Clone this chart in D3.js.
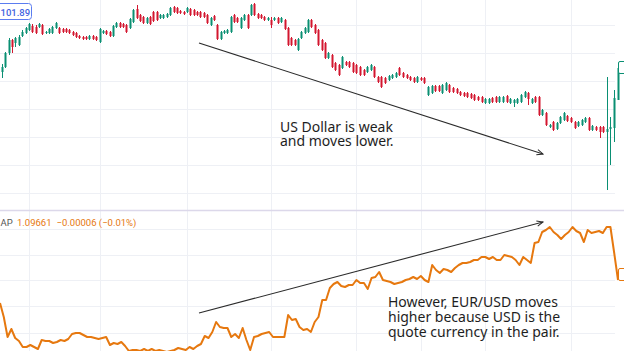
<!DOCTYPE html>
<html>
<head>
<meta charset="utf-8">
<script src="https://cdn.jsdelivr.net/npm/d3@7"></script>
<style>
body { margin: 0; background: #fff; }
svg { display: block; }
</style>
</head>
<body>
<svg width="624" height="351"></svg>
<script>
// DXY hourly candles (top pane)
var opens = [101.85,101.90,102.04,102.17,102.14,102.12,102.21,102.24,102.27,102.31,102.30,102.30,102.32,102.24,102.24,102.24,102.29,102.29,102.28,102.28,
  102.27,102.25,102.24,102.21,102.20,102.20,102.18,102.21,102.20,102.15,102.24,102.26,102.25,102.21,102.30,102.34,102.33,102.32,102.29,102.35,
  102.48,102.42,102.40,102.34,102.40,102.45,102.45,102.39,102.39,102.40,102.42,102.50,102.49,102.46,102.45,102.45,102.48,102.47,102.45,102.45,
  102.44,102.42,102.32,102.41,102.32,102.18,102.24,102.24,102.25,102.42,102.39,102.29,102.37,102.42,102.42,102.53,102.43,102.42,102.40,102.37,
  102.37,102.37,102.39,102.35,102.37,102.29,102.19,102.17,102.07,102.19,102.24,102.25,102.37,102.32,102.27,102.17,102.14,101.99,102.02,101.94,
  101.92,101.89,101.95,101.95,101.94,101.92,101.90,101.87,101.85,101.87,101.90,101.80,101.80,101.79,101.77,101.79,101.80,101.89,101.84,101.82,
  101.80,101.79,101.75,101.79,101.79,101.62,101.64,101.71,101.71,101.64,101.67,101.72,101.69,101.68,101.65,101.64,101.64,101.63,101.62,101.60,
  101.60,101.54,101.54,101.59,101.60,101.55,101.55,101.61,101.54,101.54,101.54,101.55,101.60,101.64,101.54,101.60,101.60,101.42,101.44,101.30,
  101.35,101.28,101.34,101.37,101.41,101.39,101.35,101.31,101.32,101.35,101.39,101.27,101.30,101.30,101.30,101.25,101.28,101.29,101.57];
var highs = [101.93,102.05,102.19,102.18,102.20,102.22,102.27,102.30,102.34,102.33,102.32,102.34,102.33,102.26,102.29,102.31,102.35,102.30,102.29,102.29,
  102.28,102.26,102.25,102.22,102.21,102.21,102.22,102.22,102.21,102.29,102.27,102.27,102.26,102.32,102.35,102.35,102.34,102.33,102.39,102.48,
  102.52,102.43,102.41,102.40,102.41,102.46,102.46,102.43,102.43,102.44,102.50,102.51,102.50,102.47,102.46,102.50,102.49,102.48,102.46,102.46,
  102.45,102.43,102.40,102.42,102.33,102.26,102.27,102.28,102.41,102.43,102.40,102.40,102.43,102.43,102.53,102.54,102.44,102.43,102.41,102.40,
  102.40,102.40,102.40,102.40,102.38,102.30,102.20,102.18,102.19,102.26,102.30,102.38,102.38,102.33,102.28,102.18,102.15,102.05,102.03,101.95,
  101.93,102.01,101.96,101.96,101.95,101.93,101.91,101.88,101.91,101.93,101.91,101.81,101.81,101.80,101.82,101.83,101.85,101.90,101.85,101.83,
  101.81,101.80,101.81,101.80,101.80,101.71,101.72,101.72,101.72,101.73,101.75,101.73,101.70,101.69,101.66,101.65,101.65,101.64,101.63,101.61,
  101.61,101.59,101.59,101.60,101.61,101.61,101.61,101.62,101.59,101.58,101.59,101.63,101.66,101.65,101.59,101.61,101.61,101.48,101.45,101.33,
  101.36,101.35,101.41,101.45,101.42,101.40,101.36,101.36,101.38,101.40,101.40,101.32,101.31,101.31,101.31,101.80,101.40,101.67,101.91];
var lows = [101.79,101.89,102.02,102.04,102.10,102.11,102.20,102.23,102.26,102.24,102.23,102.29,102.22,102.23,102.23,102.23,102.28,102.23,102.24,102.24,
  102.23,102.21,102.19,102.18,102.17,102.17,102.17,102.17,102.16,102.14,102.23,102.22,102.20,102.20,102.29,102.29,102.29,102.24,102.28,102.34,
  102.38,102.35,102.33,102.33,102.32,102.35,102.36,102.38,102.38,102.39,102.41,102.44,102.43,102.43,102.42,102.44,102.41,102.41,102.41,102.39,
  102.39,102.33,102.31,102.36,102.17,102.17,102.23,102.23,102.24,102.34,102.34,102.28,102.36,102.28,102.41,102.41,102.38,102.38,102.36,102.36,
  102.29,102.36,102.33,102.34,102.27,102.11,102.11,102.11,102.06,102.18,102.23,102.24,102.29,102.23,102.11,102.06,101.98,101.98,101.89,101.86,
  101.81,101.88,101.91,101.89,101.84,101.83,101.81,101.81,101.84,101.86,101.79,101.74,101.69,101.73,101.76,101.78,101.79,101.81,101.79,101.78,
  101.76,101.74,101.74,101.76,101.73,101.61,101.63,101.65,101.65,101.63,101.66,101.64,101.64,101.63,101.61,101.60,101.59,101.58,101.56,101.56,
  101.54,101.53,101.53,101.54,101.54,101.54,101.54,101.54,101.53,101.50,101.53,101.54,101.59,101.52,101.53,101.54,101.41,101.41,101.31,101.29,
  101.26,101.27,101.33,101.36,101.35,101.34,101.28,101.30,101.31,101.34,101.26,101.26,101.26,101.19,101.24,100.67,100.92,101.15,101.57];
var closes = [101.90,102.04,102.17,102.10,102.19,102.20,102.25,102.29,102.33,102.25,102.24,102.33,102.23,102.25,102.28,102.30,102.34,102.24,102.25,102.25,
  102.24,102.22,102.20,102.19,102.18,102.18,102.21,102.18,102.17,102.28,102.26,102.23,102.21,102.31,102.34,102.30,102.30,102.25,102.38,102.47,
  102.39,102.36,102.34,102.39,102.33,102.36,102.37,102.42,102.42,102.43,102.49,102.45,102.44,102.44,102.43,102.49,102.42,102.42,102.42,102.40,
  102.40,102.34,102.39,102.37,102.18,102.25,102.26,102.27,102.40,102.35,102.35,102.39,102.42,102.29,102.52,102.42,102.39,102.39,102.37,102.39,
  102.32,102.39,102.34,102.39,102.28,102.12,102.12,102.12,102.18,102.25,102.29,102.37,102.30,102.24,102.12,102.07,101.99,102.04,101.90,101.87,
  101.82,102.00,101.92,101.90,101.85,101.84,101.82,101.82,101.90,101.92,101.80,101.75,101.70,101.74,101.81,101.82,101.84,101.82,101.80,101.79,
  101.77,101.75,101.80,101.77,101.74,101.70,101.71,101.66,101.66,101.72,101.74,101.65,101.65,101.64,101.62,101.61,101.60,101.59,101.57,101.57,
  101.55,101.58,101.58,101.55,101.55,101.60,101.60,101.55,101.58,101.57,101.58,101.62,101.65,101.58,101.58,101.55,101.42,101.47,101.32,101.32,
  101.27,101.34,101.40,101.44,101.36,101.35,101.29,101.35,101.37,101.39,101.27,101.31,101.27,101.25,101.25,101.28,101.30,101.59,101.89];

// EUR/USD hourly closes (bottom pane)
var eurusd = [1.0943,1.0929,1.0909,1.0917,1.0908,1.0905,1.0899,1.0899,1.0901,1.0899,1.0897,1.0906,1.0905,1.0905,1.0903,1.0904,1.0906,1.0905,1.0907,1.0912,
  1.0913,1.0913,1.0911,1.0909,1.0909,1.0908,1.0907,1.0908,1.0909,1.0901,1.0903,1.0902,1.0904,1.0900,1.0895,1.0896,1.0896,1.0895,1.0897,1.0895,
  1.0897,1.0895,1.0896,1.0895,1.0894,1.0895,1.0896,1.0898,1.0897,1.0896,1.0899,1.0897,1.0900,1.0902,1.0910,1.0908,1.0914,1.0924,1.0919,1.0918,
  1.0918,1.0909,1.0912,1.0908,1.0918,1.0906,1.0896,1.0909,1.0910,1.0912,1.0913,1.0914,1.0909,1.0909,1.0909,1.0909,1.0931,1.0926,1.0927,1.0919,
  1.0916,1.0917,1.0914,1.0924,1.0929,1.0946,1.0946,1.0958,1.0962,1.0964,1.0960,1.0959,1.0961,1.0961,1.0966,1.0963,1.0963,1.0957,1.0968,1.0969,
  1.0974,1.0966,1.0965,1.0964,1.0962,1.0963,1.0964,1.0966,1.0967,1.0969,1.0967,1.0970,1.0966,1.0964,1.0981,1.0976,1.0973,1.0977,1.0976,1.0974,
  1.0978,1.0981,1.0983,1.0983,1.0984,1.0986,1.0986,1.0989,1.0989,1.0987,1.0989,1.0986,1.0986,1.0991,1.0990,1.0989,1.0986,1.0981,1.0989,1.0986,
  1.0983,1.1003,1.1004,1.1014,1.1016,1.1019,1.1014,1.1011,1.1007,1.1011,1.1014,1.1019,1.1015,1.1013,1.1004,1.1016,1.1013,1.1014,1.1015,1.1013,
  1.1019,1.1019,1.0993,1.0966];

// grid levels and day breaks (candle index)
var dxyGrid = [102.32, 102.04, 101.76, 101.48, 101.20, 100.92, 100.64];
var eurGrid = [1.1017, 1.0991, 1.0966, 1.0940, 1.0913];
var dayBreaks = [8, 29, 55, 80, 105, 123, 141, 165];

var dxyLabel = "101.89";
var eurLegend = ["AP", "1.09661", "\u22120.00006 (\u22120.01%)"];
var noteTop = ["US Dollar is weak", "and moves lower."];
var noteBottom = ["However, EUR/USD moves", "higher because USD is the", "quote currency in the pair."];

var svg = d3.select("svg"),
    width = +svg.attr("width"),
    height = +svg.attr("height");

var upColor = "#0a8f73", downColor = "#d3162f", lineColor = "#e6780f";
var plotRight = 615, splitY = 210;

svg.append("rect").attr("width", width).attr("height", height).attr("fill", "#fff");

//scales (candle spacing is a little tighter in the older half)
var xCandle = d3.scaleLinear().domain([0, 99, closes.length - 1]).range([2, 335, 617.5]);
var xLine = d3.scaleLinear().domain([0, eurusd.length - 1]).range([0, 618]);
var yTop = d3.scaleLinear().domain([100.47, 102.57]).range([splitY, 0]);
var yBot = d3.scaleLinear().domain([1.0895, 1.1036]).range([height, splitY]);

//grid lines
var grid = svg.append("g").attr("stroke", "#eef0f5").attr("stroke-width", 1);
grid.selectAll(".v").data(dayBreaks).enter().append("line")
    .attr("x1", d => Math.round(xCandle(d)) + 0.5).attr("x2", d => Math.round(xCandle(d)) + 0.5)
    .attr("y1", 0).attr("y2", height);
grid.selectAll(".ht").data(dxyGrid).enter().append("line")
    .attr("x1", 0).attr("x2", plotRight)
    .attr("y1", d => Math.round(yTop(d)) + 0.5).attr("y2", d => Math.round(yTop(d)) + 0.5);
grid.selectAll(".hb").data(eurGrid).enter().append("line")
    .attr("x1", 0).attr("x2", plotRight)
    .attr("y1", d => Math.round(yBot(d)) + 0.5).attr("y2", d => Math.round(yBot(d)) + 0.5);

//pane separator
svg.append("line").attr("x1", 0).attr("x2", width).attr("y1", splitY + 0.5).attr("y2", splitY + 0.5)
    .attr("stroke", "#dcd8ea").attr("stroke-width", 1.5);

//candles
var candles = svg.append("g")
    .selectAll("g").data(closes).enter().append("g")
    .attr("fill", (d, i) => d >= opens[i] ? upColor : downColor)
    .attr("stroke", (d, i) => d >= opens[i] ? upColor : downColor);

candles.append("line")
    .attr("x1", (d, i) => Math.round(xCandle(i)) + 0.5)
    .attr("x2", (d, i) => Math.round(xCandle(i)) + 0.5)
    .attr("y1", (d, i) => yTop(highs[i]))
    .attr("y2", (d, i) => yTop(lows[i]))
    .attr("stroke-width", 1);

candles.append("rect")
    .attr("stroke", "none")
    .attr("x", (d, i) => Math.round(xCandle(i)) - 0.5)
    .attr("width", 2)
    .attr("y", (d, i) => yTop(Math.max(d, opens[i])))
    .attr("height", (d, i) => Math.max(1, Math.abs(yTop(d) - yTop(opens[i]))));

//eur/usd line
var line = d3.line()
    .x((d, i) => xLine(i))
    .y(d => yBot(d));

svg.append("path")
    .datum(eurusd)
    .attr("fill", "none")
    .attr("stroke", lineColor)
    .attr("stroke-width", 2)
    .attr("stroke-linejoin", "round")
    .attr("d", line);

//last price tags on the right edge (cut off)
var lastY = yTop(closes[closes.length - 1]);
svg.append("rect").attr("x", 618.5).attr("y", lastY - 6.5).attr("width", 14).attr("height", 12).attr("rx", 1.5)
    .attr("fill", "#fff").attr("stroke", upColor);
var lastE = yBot(eurusd[eurusd.length - 1]);
svg.append("rect").attr("x", 618.5).attr("y", lastE - 11.5).attr("width", 14).attr("height", 12).attr("rx", 1.5)
    .attr("fill", "#fff").attr("stroke", lineColor);

//legend boxes
svg.append("rect").attr("x", -6.5).attr("y", 3.5).attr("width", 38).attr("height", 16).attr("rx", 3)
    .attr("fill", "#fff").attr("stroke", "#5b7cf0").attr("stroke-width", 1);
svg.append("text").attr("x", 0.5).attr("y", 15.5)
    .attr("font-family", "Roboto, sans-serif").attr("font-size", 9.5).attr("font-weight", 500).attr("fill", "#3f63e0")
    .text(dxyLabel);

var leg = svg.append("text").attr("y", 226).attr("font-family", "Roboto, sans-serif").attr("font-size", 9.5);
leg.append("tspan").attr("x", 0.5).attr("fill", "#555").text(eurLegend[0]);
leg.append("tspan").attr("x", 17).attr("fill", lineColor).text(eurLegend[1]);
leg.append("tspan").attr("dx", 5).attr("fill", lineColor).text(eurLegend[2]);

//arrows
var defs = svg.append("defs");
defs.append("marker").attr("id", "arrow")
    .attr("viewBox", "0 0 10 10").attr("refX", 9).attr("refY", 5)
    .attr("markerWidth", 7).attr("markerHeight", 7).attr("orient", "auto")
    .append("path").attr("d", "M1,1.5 L9,5 L1,8.5")
    .attr("fill", "none").attr("stroke", "#2b2b2b").attr("stroke-width", 1.3);

svg.append("line").attr("x1", 199).attr("y1", 43).attr("x2", 543).attr("y2", 154)
    .attr("stroke", "#2b2b2b").attr("stroke-width", 1.1).attr("marker-end", "url(#arrow)");
svg.append("line").attr("x1", 199).attr("y1", 313).attr("x2", 543).attr("y2", 222)
    .attr("stroke", "#2b2b2b").attr("stroke-width", 1.1).attr("marker-end", "url(#arrow)");

//notes, one text block each
svg.append("text")
    .attr("font-family", "'Noto Sans', sans-serif").attr("font-size", 14).attr("fill", "#1e1e1e")
    .selectAll("tspan").data(noteTop).enter().append("tspan")
    .attr("x", 280).attr("y", (d, i) => 132 + i * 14)
    .text(d => d);

svg.append("text")
    .attr("font-family", "'Noto Sans', sans-serif").attr("font-size", 14).attr("fill", "#1e1e1e")
    .selectAll("tspan").data(noteBottom).enter().append("tspan")
    .attr("x", 388).attr("y", (d, i) => 307 + i * 15)
    .text(d => d);
</script>
</body>
</html>
